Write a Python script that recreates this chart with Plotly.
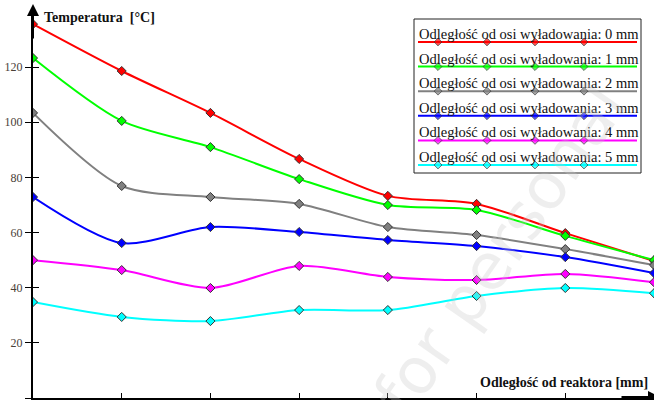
import plotly.graph_objects as go

# odległość od reaktora (kolejne punkty pomiarowe)
x_pts = [0, 1, 2, 3, 4, 5, 6, 7]

t_0mm = [135.6, 118.6, 103.4, 86.7, 73.3, 70.4, 59.8, 49.7]
t_1mm = [123.3, 100.5, 91.0, 79.4, 70.0, 68.2, 58.8, 50.0]
t_2mm = [103.4, 76.9, 72.9, 70.4, 62.0, 59.1, 54.0, 48.2]
t_3mm = [72.9, 56.2, 62.0, 60.2, 57.3, 55.1, 51.1, 45.3]
t_4mm = [50.0, 46.4, 39.9, 47.9, 43.9, 42.8, 45.0, 42.0]
t_5mm = [34.8, 29.4, 27.9, 31.9, 31.9, 37.0, 39.9, 38.0]

series = [t_0mm, t_1mm, t_2mm, t_3mm, t_4mm, t_5mm]
names = ["Odległość od osi wyładowania: %d mm" % i for i in range(6)]
colors = ["#ff0000", "#00ff00", "#808080", "#0000ff", "#ff00ff", "#00ffff"]

y_ticks = [0, 20, 40, 60, 80, 100, 120]

serif = "Liberation Serif"

fig = go.Figure()

for vals, name, col in zip(series, names, colors):
    fig.add_trace(go.Scatter(
        x=x_pts, y=vals, name=name, mode="lines+markers",
        line=dict(color=col, width=2, shape="spline", smoothing=0.8),
        marker=dict(symbol="diamond", size=7, color=col, line=dict(color="#333333", width=1)),
        showlegend=False))

# legenda rysowana recznie (tekst nad linia, jak w oryginale)
leg_top = 34
leg_step = 24.6
for i, (name, col) in enumerate(zip(names, colors)):
    yl = leg_top + 8 + i * leg_step
    fig.add_trace(go.Scatter(
        x=[418, 438, 487, 535, 584, 637], y=[yl] * 6, mode="lines+markers",
        xaxis="x2", yaxis="y2", showlegend=False, hoverinfo="skip",
        line=dict(color=col, width=2),
        marker=dict(symbol="diamond", size=[0, 6, 6, 6, 6, 0], color=col,
                    line=dict(color="#333333", width=1))))
    fig.add_annotation(x=417, y=yl - 8, xref="x2", yref="y2", text=name,
                       showarrow=False, xanchor="left", yanchor="middle",
                       font=dict(family=serif, size=14.5, color="#111111"))

fig.add_shape(type="rect", xref="x2", yref="y2", x0=414, x1=641, y0=19, y1=173,
              line=dict(color="#222222", width=1), fillcolor="rgba(0,0,0,0)")

# dummy for crossing ticks axes
fig.add_trace(go.Scatter(x=[None], y=[None], xaxis="x3", yaxis="y3",
                         showlegend=False, hoverinfo="skip"))

fig.add_annotation(x=42, y=17, xref="x2", yref="y2", text="<b>Temperatura  [°C]</b>",
                   showarrow=False, xanchor="left", yanchor="middle",
                   font=dict(family=serif, size=14, color="#111111"))
fig.add_annotation(x=650, y=382, xref="x2", yref="y2", text="<b>Odległość od reaktora [mm]</b>",
                   showarrow=False, xanchor="right", yanchor="middle",
                   font=dict(family=serif, size=14, color="#111111"))

# strzałki osi
fig.add_annotation(x=33, y=4, ax=33, ay=40, xref="x2", yref="y2", axref="x2", ayref="y2",
                   showarrow=True, arrowhead=2, arrowsize=1.2, arrowwidth=2,
                   arrowcolor="black", text="")
fig.add_annotation(x=660, y=397, ax=620, ay=397, xref="x2", yref="y2", axref="x2", ayref="y2",
                   showarrow=True, arrowhead=2, arrowsize=1.2, arrowwidth=2,
                   arrowcolor="black", text="")

# znak wodny
fig.add_annotation(x=500, y=250, xref="x2", yref="y2", text="for personal",
                   showarrow=False, textangle=-55,
                   font=dict(family="DejaVu Sans", size=64, color="rgba(200,200,200,0.3)"))

fig.update_layout(
    width=654, height=400,
    margin=dict(l=33, r=0, t=12, b=2),
    paper_bgcolor="white", plot_bgcolor="white",
    xaxis=dict(range=[0, 7], showgrid=False, zeroline=False, showline=True,
               linecolor="black", linewidth=2, ticks="outside", ticklen=5,
               tickcolor="black", tickwidth=1, tickvals=x_pts, showticklabels=False,
               automargin=False),
    yaxis=dict(range=[0, 140], showgrid=False, zeroline=False, showline=True,
               linecolor="black", linewidth=2, ticks="outside", ticklen=6,
               tickcolor="black", tickwidth=1, tickvals=y_ticks,
               tickfont=dict(family=serif, size=12, color="#4a4038"),
               automargin=False),
    xaxis2=dict(range=[33, 654], overlaying="x", visible=False),
    yaxis2=dict(range=[398, 12], overlaying="y", visible=False),
    xaxis3=dict(range=[0, 7], overlaying="x", showgrid=False, zeroline=False,
                ticks="inside", ticklen=5, tickcolor="black", tickwidth=1,
                tickvals=x_pts, showticklabels=False, showline=False, automargin=False),
    yaxis3=dict(range=[0, 140], overlaying="y", showgrid=False, zeroline=False,
                ticks="inside", ticklen=6, tickcolor="black", tickwidth=1,
                tickvals=y_ticks, showticklabels=False, showline=False, automargin=False),
)

fig.write_html("out.html", config={"displayModeBar": False},
               post_script="document.body.style.margin='0';")
